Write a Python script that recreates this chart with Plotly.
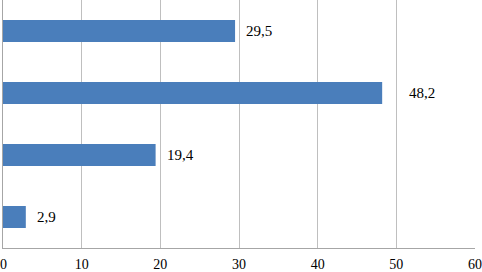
import plotly.graph_objects as go

categories = ["Cat 1", "Cat 2", "Cat 3", "Cat 4"]
values = [29.5, 48.2, 19.4, 2.9]
labels = ["29,5", "48,2", "19,4", "2,9"]
label_shift = [9, 25, 9, 9]
x_ticks = [0, 10, 20, 30, 40, 50, 60]

fig = go.Figure()
fig.add_trace(go.Bar(
    y=categories, x=values, orientation="h",
    marker=dict(color="#4a7ebb", line=dict(width=0)),
    width=0.355, hoverinfo="skip",
))
for c, v, t, s in zip(categories, values, labels, label_shift):
    fig.add_annotation(x=v, y=c, text=t, showarrow=False, xanchor="left",
                       xshift=s, font=dict(family="Liberation Serif", size=15, color="#000"))

# first tick label (overflows the left page edge, so drawn as text)
fig.add_annotation(x=x_ticks[0], xref="x", y=0, yref="paper", yanchor="top", yshift=-7,
                   text=str(x_ticks[0]), showarrow=False,
                   font=dict(family="Liberation Serif", size=14, color="#000"))

fig.update_layout(
    width=482, height=272,
    margin=dict(l=3, r=7, t=0, b=24, autoexpand=False),
    paper_bgcolor="white", plot_bgcolor="white",
    showlegend=False,
    font=dict(family="Liberation Serif", size=14, color="#000"),
)
fig.update_xaxes(range=[0, 60], tickvals=x_ticks, ticktext=[str(v) for v in x_ticks],
                 showgrid=True, gridcolor="#bfbfbf", gridwidth=1,
                 showline=True, linecolor="#a6a6a6", linewidth=1,
                 zeroline=False, ticks="outside", ticklen=3, tickcolor="rgba(0,0,0,0)",
                 automargin=False)
fig.update_yaxes(categoryorder="array", categoryarray=categories[::-1],
                 showticklabels=False, showgrid=False,
                 showline=True, linecolor="#a6a6a6", linewidth=1,
                 zeroline=False, ticks="", range=[-0.5, 3.5], automargin=False)

fig.write_html("out.html", config={"displayModeBar": False},
               post_script="document.body.style.margin='0';document.body.style.padding='0';")
